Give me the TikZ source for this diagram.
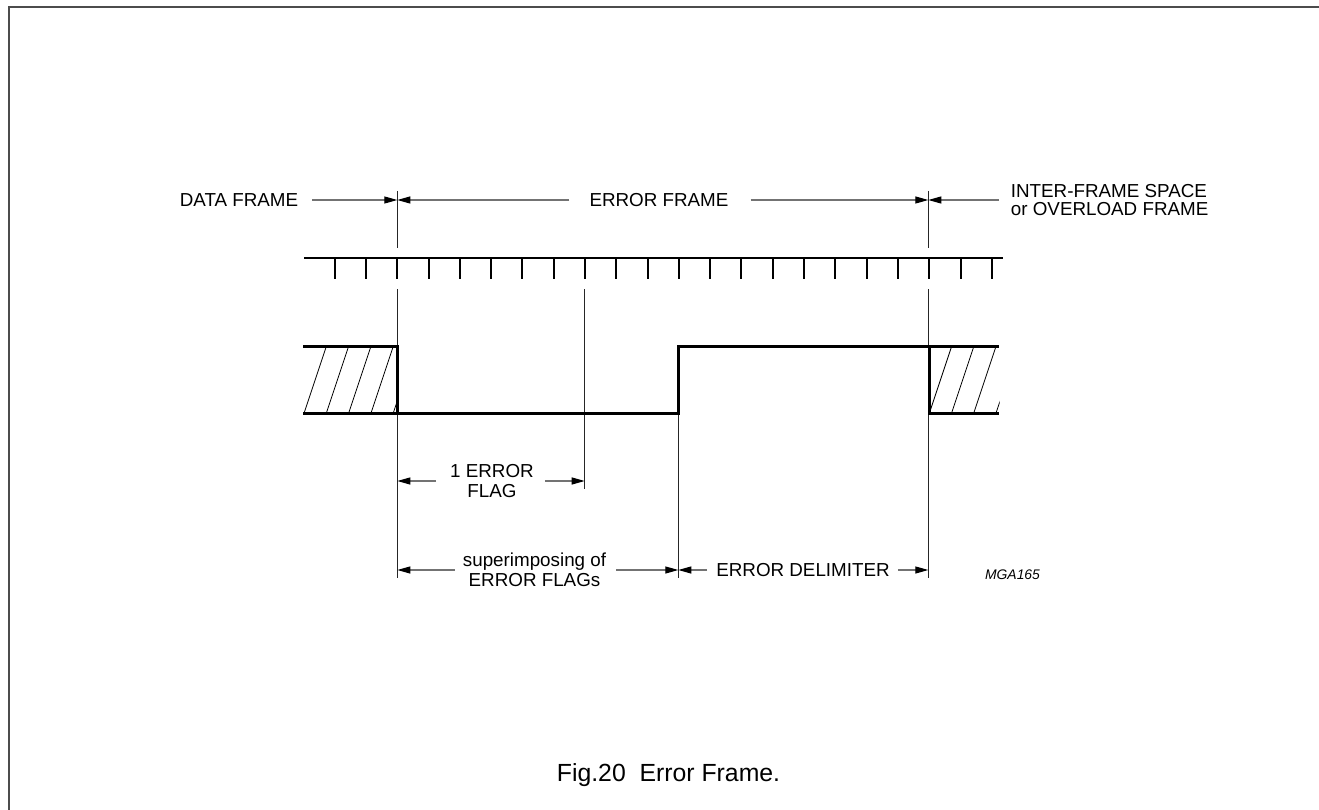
\documentclass[tikz,border=0pt]{standalone}
\usepackage{fontspec}
\setmainfont{Liberation Sans}
\usetikzlibrary{arrows.meta}
\begin{document}
\begin{tikzpicture}[x=1pt,y=-1pt,
  framebox/.style={draw=black!70,line width=2pt},
  sig/.style={line width=2.6pt,line join=miter,line cap=rect},
  tickline/.style={line width=2pt},
  guide/.style={line width=1.1pt,draw=black!85},
  hatch/.style={line width=0.8pt},
  dim/.style={draw=black!55,line width=1.1pt,-{Triangle[length=13pt,width=7pt,fill=black,color=black]}},
  lbl/.style={inner sep=0pt,font=\fontsize{18.8}{20}\selectfont,align=center},
  lblL/.style={inner sep=0pt,font=\fontsize{18.8}{18}\selectfont,align=left},
  code/.style={inner sep=0pt,font=\fontsize{13.9}{15}\selectfont\itshape},
  capt/.style={inner sep=0pt,font=\fontsize{24.8}{26}\selectfont}]
\useasboundingbox (0,0) rectangle (1319,810);
% frame
\draw[framebox] (8.5,810) -- (8.5,7) -- (1319,7);
% bit-time axis
\draw[tickline] (304,257.7) -- (1003,257.7);
\foreach \i in {0,...,21}{
  \draw[tickline] ({334.7+31.29*\i},257.7) -- ({334.7+31.29*\i},279);
}
% guide lines
\coordinate (A1) at (397.3,191);  \coordinate (A2) at (397.3,248);
\coordinate (A3) at (397.3,289);  \coordinate (A4) at (397.3,578);
\coordinate (B1) at (584.7,289);  \coordinate (B2) at (584.7,489);
\coordinate (C1) at (678.3,413);  \coordinate (C2) at (678.3,578);
\coordinate (D1) at (928.3,191);  \coordinate (D2) at (928.3,248);
\coordinate (D3) at (928.3,289);  \coordinate (D4) at (928.3,578);
\draw[guide] (A1) -- (A2) (A3) -- (A4) (B1) -- (B2) (C1) -- (C2) (D1) -- (D2) (D3) -- (D4);
% hatching
\begin{scope}
  \clip (304,346.7) rectangle (397.3,413.3);
  \foreach \xb in {304,326.3,348.6,370.9,393.2}{
    \draw[hatch] (\xb,413.3) -- ({\xb+22.2},346.7);
  }
\end{scope}
\begin{scope}
  \clip (929.3,346.7) rectangle (999.5,413.3);
  \foreach \xb in {929.3,951.5,973.7,995.9}{
    \draw[hatch] (\xb,413.3) -- ({\xb+22.2},346.7);
  }
\end{scope}
% waveform
\draw[sig] (304,346.7) -- (397.3,346.7) -- (397.3,413.3) -- (678.3,413.3) -- (678.3,346.7) -- (997.3,346.7);
\draw[sig] (304,413.3) -- (397.3,413.3);
\draw[sig] (929.3,346.7) -- (929.3,413.3) -- (997.3,413.3);
% top labels
\node[lbl] (data) at (239,200) {DATA FRAME};
\node[lbl] (errf) at (659,200) {ERROR FRAME};
\node[lblL,anchor=west] (ifs) at (1010.7,200) {INTER-FRAME SPACE\\or OVERLOAD FRAME};
\coordinate (tA) at (397.3,200);
\coordinate (tD) at (928.3,200);
\draw[dim] ([xshift=13.7pt]data.east) -- (tA);
\draw[dim] ([xshift=-20pt]errf.west) -- (tA);
\draw[dim] ([xshift=22pt]errf.east) -- (tD);
\draw[dim] ([xshift=-11.7pt]ifs.west) -- (tD);
% 1 error flag
\node[lbl] (flag) at (492,481) {1 ERROR\\FLAG};
\coordinate (fA) at (397.3,481);
\coordinate (fB) at (584.7,481);
\draw[dim] ([xshift=-14pt]flag.west) -- (fA);
\draw[dim] ([xshift=11pt]flag.east) -- (fB);
% superimposing
\node[lbl] (sup) at (534.5,570) {superimposing of\\ERROR FLAGs};
\coordinate (sA) at (397.3,570);
\coordinate (sC) at (678.3,570);
\draw[dim] ([xshift=-8pt]sup.west) -- (sA);
\draw[dim] ([xshift=10pt]sup.east) -- (sC);
% error delimiter
\node[lbl] (del) at (803,570) {ERROR DELIMITER};
\coordinate (dC) at (678.3,570);
\coordinate (dD) at (928.3,570);
\draw[dim] ([xshift=-9pt]del.west) -- (dC);
\draw[dim] ([xshift=8pt]del.east) -- (dD);
% code and caption
\node[code] (mga) at (1012.5,575) {MGA165};
\node[capt] (cap) at (668.5,775) {Fig.20\ \ Error Frame.};
\end{tikzpicture}
\end{document}
